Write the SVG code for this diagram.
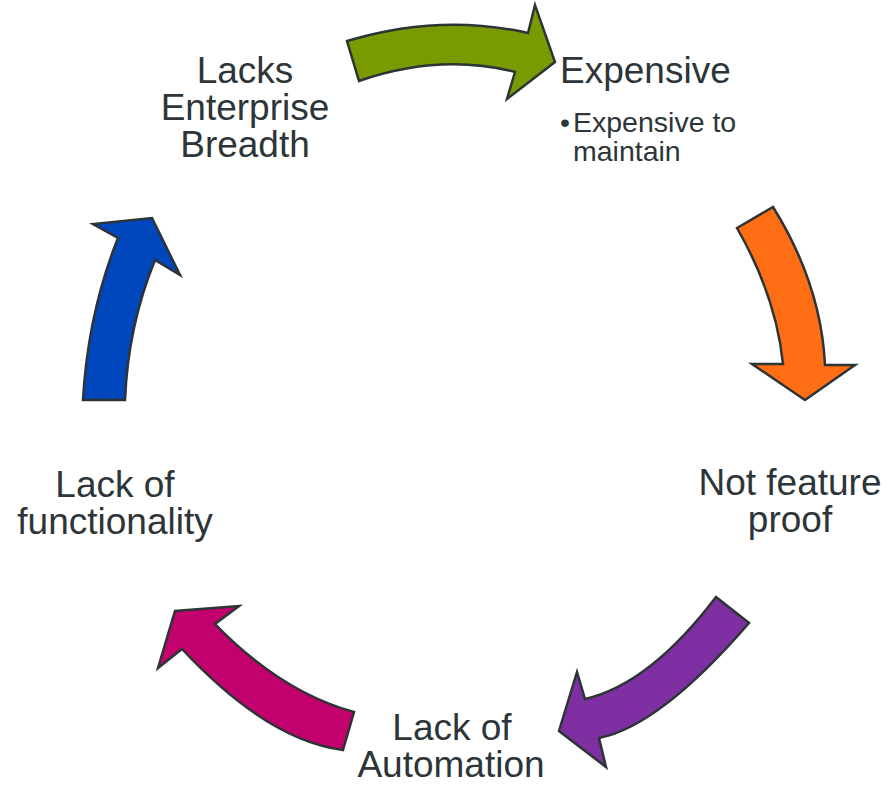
<svg xmlns="http://www.w3.org/2000/svg" width="889" height="786" viewBox="0 0 889 786">
<style>
.arrow{stroke:#2d3436;stroke-width:2.5;stroke-linejoin:miter}
.t{font-family:"Liberation Sans",Arial,sans-serif;font-size:37px;fill:#2d3538}
.s{font-family:"Liberation Sans",Arial,sans-serif;font-size:28.5px;fill:#2d3538}
</style>
<rect width="889" height="786" fill="#ffffff"/>
<g id="connectors">
<path id="arrow-green" class="arrow" fill="#7a9a01" d="M347,41 Q440,13 528,33 L535,5 L555,62 L507,99 L515,72 Q440,53 359,81 Z"/>
<path id="arrow-orange" class="arrow" fill="#ff6d14" d="M737,228 L773,207 Q821,284 825,365 L855,365 L805,400 L752,364 L783,364 Q776,296 737,228 Z"/>
<path id="arrow-purple" class="arrow" fill="#7e30a3" d="M716,597 L749,623 Q660,726 599,738 L606,767 L559,731 L577,672 L585,699 Q650,684 716,597 Z"/>
<path id="arrow-magenta" class="arrow" fill="#c2006e" d="M343,750 L354,712 Q281,692 215,624 L239,606 L175,611 L158,668 L182,649 Q267,740 343,750 Z"/>
<path id="arrow-blue" class="arrow" fill="#0047bd" d="M83,400 L125,400 Q128,326 155,260 L180,275 L152,218 L93,224 L118,238 Q88,313 83,400 Z"/>
</g>
<g id="node-lacks-enterprise-breadth">
<text class="t" text-anchor="middle"><tspan x="245" y="83">Lacks</tspan><tspan x="245" y="120">Enterprise</tspan><tspan x="245" y="157">Breadth</tspan></text>
</g>
<g id="node-expensive">
<text class="t" x="560" y="83">Expensive</text>
<text class="s"><tspan x="560" y="132">•</tspan><tspan x="573" y="132">Expensive to</tspan><tspan x="573" y="161">maintain</tspan></text>
</g>
<g id="node-not-feature-proof">
<text class="t" text-anchor="middle"><tspan x="790" y="495">Not feature</tspan><tspan x="790" y="532">proof</tspan></text>
</g>
<g id="node-lack-of-automation">
<text class="t" text-anchor="middle"><tspan x="452" y="740">Lack of</tspan><tspan x="451" y="777">Automation</tspan></text>
</g>
<g id="node-lack-of-functionality">
<text class="t" text-anchor="middle"><tspan x="115" y="497">Lack of</tspan><tspan x="115" y="534">functionality</tspan></text>
</g>
</svg>
